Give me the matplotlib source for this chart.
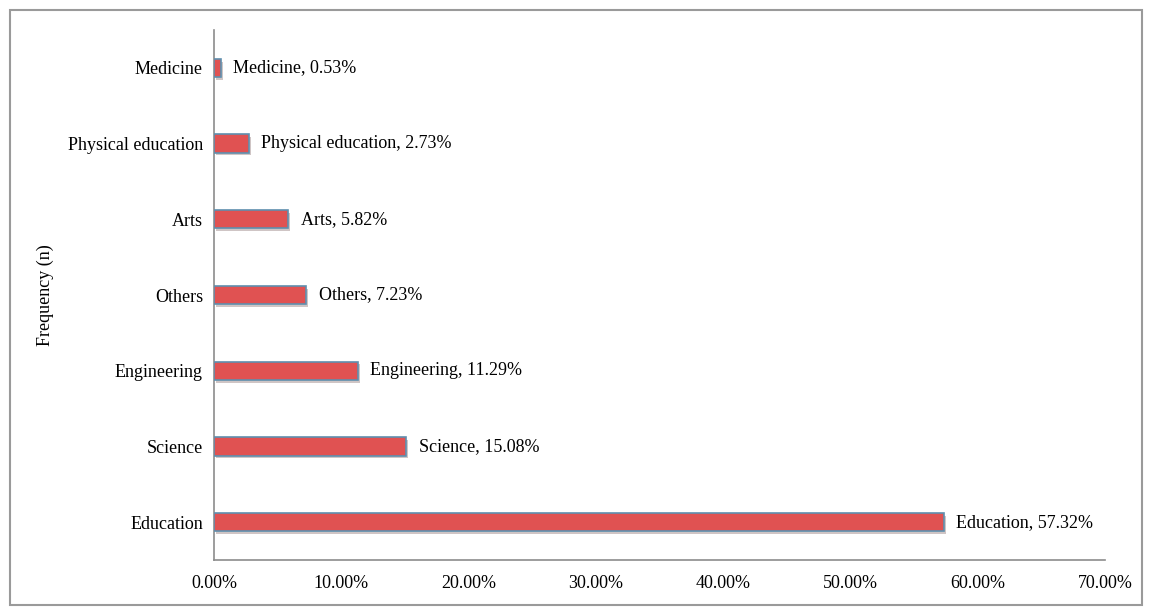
import matplotlib.pyplot as plt
from matplotlib.patches import Rectangle
import matplotlib.patheffects as pe
from matplotlib.ticker import FuncFormatter

# data (bottom to top)
categories = ["Education", "Science", "Engineering", "Others", "Arts",
              "Physical education", "Medicine"]
percent = [57.32, 15.08, 11.29, 7.23, 5.82, 2.73, 0.53]

C_BAR = "#e05252"
C_EDGE = "#5f8fae"
C_AXIS = "#8c8c8c"
FS = 13

plt.rcParams['font.family'] = ['Liberation Serif', 'DejaVu Serif']

fig = plt.figure(figsize=(11.5, 6.14), dpi=100)
ax = fig.add_axes([214 / 1150, 1 - 560 / 614, (1105 - 214) / 1150, (560 - 30) / 614])

# outer chart border
fig.patches.append(Rectangle((10 / 1150, 1 - 605 / 614), 1132 / 1150, 595 / 614,
                             transform=fig.transFigure, fill=False,
                             edgecolor="#9a9a9a", linewidth=1.5))

ypos = range(len(categories))
bars = ax.barh(ypos, percent, height=0.24, color=C_BAR, edgecolor=C_EDGE,
               linewidth=1.2, zorder=3)
for b in bars:
    b.set_path_effects([pe.SimplePatchShadow(offset=(1.5, -2), alpha=0.25),
                        pe.Normal()])

for y, (cat, v) in enumerate(zip(categories, percent)):
    ax.text(v + 1.0, y, f"{cat}, {v:.2f}%", va='center', ha='left',
            fontsize=FS, color='black')

ax.set_xlim(0, 70)
ax.set_ylim(-0.5, len(categories) - 0.5)
ax.set_xticks(range(0, 71, 10))
ax.xaxis.set_major_formatter(FuncFormatter(lambda x, _: f"{x:.2f}%"))
ax.set_yticks(list(ypos))
ax.set_yticklabels(categories)
ax.tick_params(axis='both', length=0, labelsize=FS)
ax.tick_params(axis='x', pad=11)
ax.tick_params(axis='y', pad=8)

ax.set_ylabel("Frequency (n)", fontsize=FS, labelpad=0)
ax.yaxis.set_label_coords(-(214 - 54) / 891, 0.5)

for s in ['top', 'right']:
    ax.spines[s].set_visible(False)
for s in ['left', 'bottom']:
    ax.spines[s].set_color(C_AXIS)
    ax.spines[s].set_linewidth(1.2)

fig.savefig("out.png", dpi=100)
